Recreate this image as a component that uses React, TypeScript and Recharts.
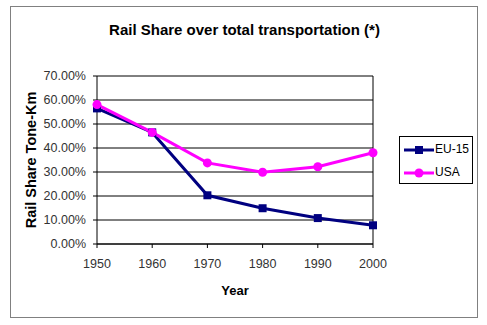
import { LineChart, Line, XAxis, YAxis, CartesianGrid, ReferenceLine } from 'recharts';

const years = [1950, 1960, 1970, 1980, 1990, 2000];
const eu15 = [56.5, 46.5, 20.3, 14.9, 10.8, 7.8];
const usa = [58.1, 46.5, 33.8, 29.9, 32.2, 38.0];
const yTicks = [0, 10, 20, 30, 40, 50, 60, 70];

const data = years.map((year, i) => ({ year, eu: eu15[i], usa: usa[i] }));

const FONT = 'Arial, "Liberation Sans", sans-serif';
const NAVY = '#000080';
const MAGENTA = '#ff00ff';

const SquareDot = (props: any) => {
  const { cx, cy, index } = props;
  return <rect key={`sq-${index}`} x={cx - 4} y={cy - 4} width={8} height={8} fill={NAVY} />;
};

const RoundDot = (props: any) => {
  const { cx, cy, index } = props;
  return <circle key={`ci-${index}`} cx={cx} cy={cy} r={4.5} fill={MAGENTA} />;
};

const legendItems = [
  { name: 'EU-15', color: NAVY, square: true },
  { name: 'USA', color: MAGENTA, square: false },
];

const LegendBox = () => (
  <div
    style={{
      position: 'absolute',
      left: 399,
      top: 136,
      width: 72,
      height: 46,
      border: '1px solid #000',
      background: '#fff',
      fontFamily: FONT,
      fontSize: 12,
      color: '#000',
    }}
  >
    {legendItems.map((s, i) => (
      <div key={s.name} style={{ position: 'relative', height: 23, marginTop: i === 0 ? 1 : 0 }}>
        <svg width={32} height={12} style={{ position: 'absolute', left: 3, top: 6 }}>
          <line x1={1} y1={6} x2={31} y2={6} stroke={s.color} strokeWidth={3} />
          {s.square ? (
            <rect x={12} y={2} width={8} height={8} fill={s.color} />
          ) : (
            <circle cx={16} cy={6} r={4.5} fill={s.color} />
          )}
        </svg>
        <span style={{ position: 'absolute', left: 35, top: 4 }}>{s.name}</span>
      </div>
    ))}
  </div>
);

export default function App() {
  return (
    <div style={{ position: 'absolute', left: 0, top: 0, width: 487, height: 325, background: '#fff' }}>
      <div
        style={{
          position: 'absolute',
          left: 10,
          top: 6,
          width: 466,
          height: 310,
          border: '1px solid #808080',
        }}
      />
      <div
        style={{
          position: 'absolute',
          left: 0,
          top: 21,
          width: 489,
          textAlign: 'center',
          fontFamily: FONT,
          fontWeight: 'bold',
          fontSize: 15,
          color: '#000',
        }}
      >
        Rail Share over total transportation (*)
      </div>
      <div style={{ position: 'absolute', left: 0, top: 0 }}>
        <LineChart width={487} height={325} data={data} margin={{ top: 76, right: 114, bottom: 51, left: 17 }}>
          <CartesianGrid vertical={false} stroke="#000" strokeWidth={1} />
          <XAxis
            dataKey="year"
            type="number"
            domain={[1950, 2000]}
            ticks={years}
            interval={0}
            height={30}
            stroke="#000"
            tickSize={4}
            tick={{ fill: '#333', fontSize: 12.5, fontFamily: FONT }}
            tickMargin={11}
            label={{
              value: 'Year',
              position: 'insideBottom',
              offset: -21,
              style: { fontFamily: FONT, fontWeight: 'bold', fontSize: 13, fill: '#000' },
            }}
          />
          <YAxis
            type="number"
            domain={[0, 70]}
            ticks={yTicks}
            interval={0}
            width={80}
            stroke="#000"
            tickSize={4}
            tick={{ fill: '#333', fontSize: 12.5, fontFamily: FONT }}
            tickFormatter={(v: number) => `${v.toFixed(2)}%`}
            tickMargin={7}
            label={{
              value: 'Rail Share Tone-Km',
              angle: -90,
              position: 'insideLeft',
              offset: 14,
              style: { textAnchor: 'middle', fontFamily: FONT, fontWeight: 'bold', fontSize: 14.5, fill: '#000' },
            }}
          />
          <ReferenceLine x={2000} stroke="#000" />
          <Line
            dataKey="eu"
            name="EU-15"
            stroke={NAVY}
            strokeWidth={3}
            dot={SquareDot}
            activeDot={false}
            isAnimationActive={false}
          />
          <Line
            dataKey="usa"
            name="USA"
            stroke={MAGENTA}
            strokeWidth={3}
            dot={RoundDot}
            activeDot={false}
            isAnimationActive={false}
          />
        </LineChart>
      </div>
      <LegendBox />
    </div>
  );
}
